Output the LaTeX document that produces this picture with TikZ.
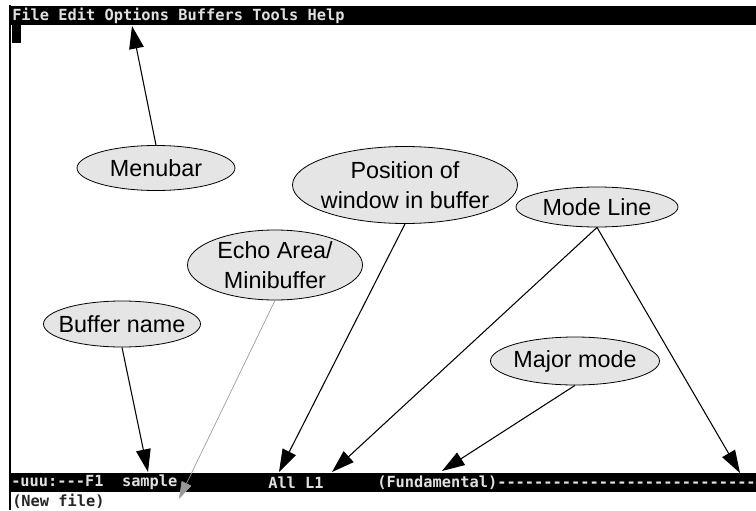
\documentclass[tikz,border=0pt]{standalone}
\usepackage{fontspec}
\setmainfont{Liberation Sans}
\setmonofont{DejaVu Sans Mono}
\usetikzlibrary{shapes.geometric,arrows.meta}

\begin{document}
\begin{tikzpicture}[x=0.75pt, y=-0.75pt]
    \tikzstyle{label} = [ellipse, draw, fill=black!10, line width=0.6pt, inner xsep=-10pt, inner ysep=-8pt, align=center, font=\fontsize{17.5}{22.5}\selectfont]
    \tikzstyle{line} = [draw, line width=0.8pt, -{Triangle[length=17pt, width=11pt]}]
    \tikzstyle{faint} = [draw=black!40, line width=0.5pt, -{Triangle[length=13pt, width=8pt]}, black!40]
    \tikzstyle{screen} = [font=\ttfamily\bfseries\fontsize{11.5}{12}\selectfont, inner sep=0pt, anchor=west]

    \useasboundingbox (0,0) rectangle (756,510);

    % the emacs window
    \draw [line width=0.8pt] (10,5) -- (10,510);
    \fill (10,6) rectangle (756,25);
    \fill (12,25) rectangle (21,43);
    \fill (10,473) rectangle (756,492);

    \node [screen, text=black!12] (menu) at (12,15.5) {File Edit Options Buffers Tools Help};
    \node [screen, text=black!12] (status) at (11,482.5) {-uuu:---F1~~sample};
    \node [screen, text=black!12] (where) at (268,482.5) {All L1};
    \node [screen, text=black!12] (mode) at (377,482.5) {(Fundamental)----------------------------};
    \node [screen, text=black!85] (echo) at (12,501) {(New file)};

    % callouts (sizes in pt)
    \node [label, minimum width=118.5pt, minimum height=33.75pt] (menubar) at (156,168) {Menubar};
    \node [label, minimum width=168.75pt, minimum height=57.75pt] (position) at (405,185) {Position of\\window in buffer};
    \node [label, minimum width=121.5pt, minimum height=30pt] (modeline) at (597,207) {Mode Line};
    \node [label, minimum width=131.25pt, minimum height=52.5pt] (minibuf) at (275,265) {Echo Area/\\Minibuffer};
    \node [label, minimum width=117.75pt, minimum height=34.5pt] (bufname) at (122,324) {Buffer name};
    \node [label, minimum width=126.75pt, minimum height=36pt] (major) at (575,361) {Major mode};

    \coordinate (menutip) at (132,26);
    \coordinate (nametip) at (148,472);
    \coordinate (echotip) at (179,499);
    \coordinate (postip) at (279,472);
    \coordinate (linetip) at (332,472);
    \coordinate (majortip) at (442,471);
    \coordinate (endtip) at (740,473);

    \draw [line] (menubar.north) -- (menutip);
    \draw [line] (bufname.south) -- (nametip);
    \draw [faint] (minibuf.south) -- (echotip);
    \draw [line] (position.south) -- (postip);
    \draw [line] (modeline.south) -- (linetip);
    \draw [line] (modeline.south) -- (endtip);
    \draw [line] (major.south) -- (majortip);
\end{tikzpicture}
\end{document}
